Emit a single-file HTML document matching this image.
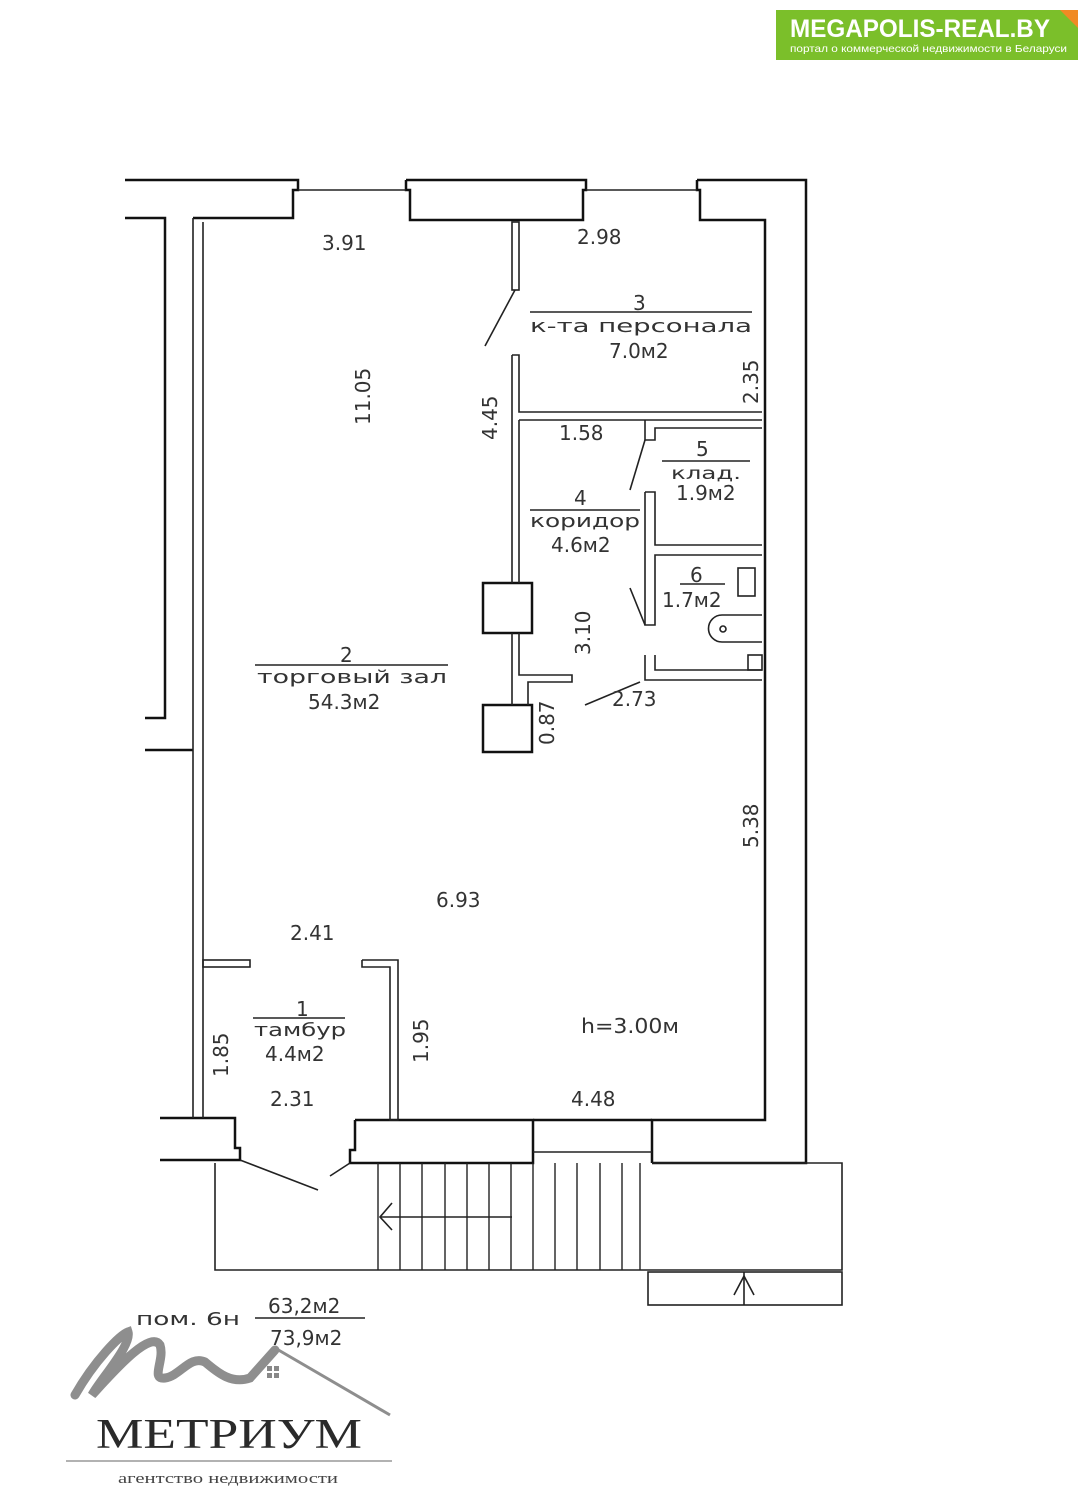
<!DOCTYPE html>
<html><head><meta charset="utf-8"><style>
html,body{margin:0;padding:0;background:#fff;width:1088px;height:1500px;overflow:hidden}
svg text{font-family:"DejaVu Sans","Liberation Sans",sans-serif;fill:#333}
</style></head><body>
<svg width="1088" height="1500" viewBox="0 0 1088 1500" xmlns="http://www.w3.org/2000/svg">
<rect width="1088" height="1500" fill="#fff"/>
<!-- top logo -->
<rect x="776" y="10" width="302" height="50" fill="#7bbf2a"/>
<polygon points="1060,10 1078,10 1078,28" fill="#f08a24"/>
<text x="790" y="37" font-weight="bold" font-size="25" textLength="260" lengthAdjust="spacingAndGlyphs" style="fill:#fff;font-family:'Liberation Sans'">MEGAPOLIS-REAL.BY</text>
<text x="790" y="52" font-size="10.5" textLength="277" lengthAdjust="spacingAndGlyphs" style="fill:#fff;font-family:'Liberation Sans'">портал о коммерческой недвижимости в Беларуси</text>

<g stroke="#111" fill="none" stroke-width="2.5">
<polyline points="125,180 298,180 298,190 293,190 293,218 193,218"/>
<polyline points="406,180 586,180 586,190 583,190 583,220 410,220 410,190 406,190 406,180"/>
<polyline points="697,180 806,180 806,1163 652,1163"/>
<polyline points="697,180 697,190 700,190 700,220 765,220 765,1120 652,1120 652,1163"/>
<polyline points="125,218 165,218 165,718 145,718"/>
<line x1="145" y1="750" x2="193" y2="750"/>
<polyline points="160,1118 235,1118 235,1148 240,1148 240,1160 160,1160"/>
<polyline points="355,1120 533,1120 533,1163 350,1163 350,1150 355,1150 355,1120"/>
<line x1="533" y1="1120" x2="652" y2="1120"/>
<rect x="483" y="583" width="49" height="50"/>
<rect x="483" y="705" width="49" height="47"/>
</g>
<g stroke="#222" fill="none" stroke-width="1.6">
<line x1="193" y1="218" x2="193" y2="1118"/>
<line x1="203" y1="222" x2="203" y2="1118"/>
<line x1="298" y1="190" x2="406" y2="190"/>
<line x1="586" y1="190" x2="697" y2="190"/>
<line x1="533" y1="1152" x2="652" y2="1152"/>
<rect x="512" y="222" width="7" height="68"/>
<line x1="515" y1="290" x2="485" y2="346"/>
<polyline points="512,355 519,355 519,412 762,412"/>
<polyline points="512,355 512,583"/>
<line x1="519" y1="420" x2="762" y2="420"/>
<polyline points="519,420 519,583"/>
<line x1="512" y1="633" x2="512" y2="705"/>
<polyline points="519,633 519,675 572,675 572,682 528,682 528,705"/>
<polyline points="645,420 645,440 655,440 655,428 762,428"/>
<line x1="645" y1="440" x2="630" y2="490"/>
<polyline points="645,492 655,492 655,545 762,545"/>
<polyline points="645,492 645,625 655,625 655,555 762,555"/>
<line x1="630" y1="588" x2="645" y2="625"/>
<polyline points="645,655 645,680 762,680"/>
<polyline points="655,655 655,670 762,670"/>
<line x1="585" y1="705" x2="640" y2="682"/>
<rect x="738" y="568" width="17" height="28"/>
<path d="M762,615 H722 A12,12 0 0 0 722,642 H762"/>
<circle cx="723" cy="629" r="3"/>
<rect x="748" y="655" width="14" height="15"/>
<rect x="203" y="960" width="47" height="7"/>
<polyline points="362,960 398,960 398,1120 390,1120 390,967 362,967 362,960"/>
<line x1="240" y1="1160" x2="318" y2="1190"/>
<line x1="350" y1="1163" x2="330" y2="1176"/>
<polyline points="215,1163 215,1270 842,1270 842,1163 652,1163"/>
<rect x="648" y="1272" width="194" height="33"/>
<line x1="744" y1="1272" x2="744" y2="1305"/>
<polyline points="734,1295 744,1276 754,1295"/>
<line x1="380" y1="1217" x2="512" y2="1217"/>
<polyline points="392,1203 380,1217 392,1230"/>
</g>
<g stroke="#222" stroke-width="1.4">
<line x1="378" y1="1163" x2="378" y2="1270"/><line x1="400" y1="1163" x2="400" y2="1270"/>
<line x1="422" y1="1163" x2="422" y2="1270"/><line x1="445" y1="1163" x2="445" y2="1270"/>
<line x1="467" y1="1163" x2="467" y2="1270"/><line x1="489" y1="1163" x2="489" y2="1270"/>
<line x1="511" y1="1163" x2="511" y2="1270"/><line x1="533" y1="1163" x2="533" y2="1270"/>
<line x1="555" y1="1163" x2="555" y2="1270"/><line x1="577" y1="1163" x2="577" y2="1270"/>
<line x1="600" y1="1163" x2="600" y2="1270"/><line x1="622" y1="1163" x2="622" y2="1270"/>
<line x1="640" y1="1163" x2="640" y2="1270"/>
<line x1="530" y1="312" x2="752" y2="312"/>
<line x1="662" y1="461" x2="750" y2="461"/>
<line x1="530" y1="510" x2="640" y2="510"/>
<line x1="680" y1="584" x2="725" y2="584"/>
<line x1="255" y1="665" x2="448" y2="665"/>
<line x1="253" y1="1018" x2="345" y2="1018"/>
<line x1="255" y1="1318" x2="365" y2="1318"/>
</g>
<g font-size="20">
<text x="322" y="250">3.91</text>
<text x="577" y="244">2.98</text>
<text x="633" y="310">3</text>
<text x="530" y="332" font-size="18" textLength="222" lengthAdjust="spacingAndGlyphs">к-та персонала</text>
<text x="609" y="358">7.0м2</text>
<text x="559" y="440">1.58</text>
<text x="696" y="456">5</text>
<text x="671" y="479" font-size="17" textLength="70" lengthAdjust="spacingAndGlyphs">клад.</text>
<text x="676" y="500">1.9м2</text>
<text x="574" y="505">4</text>
<text x="530" y="527" font-size="18" textLength="110" lengthAdjust="spacingAndGlyphs">коридор</text>
<text x="551" y="552">4.6м2</text>
<text x="690" y="582">6</text>
<text x="662" y="607">1.7м2</text>
<text x="340" y="662">2</text>
<text x="257" y="683" font-size="18" textLength="190" lengthAdjust="spacingAndGlyphs">торговый зал</text>
<text x="308" y="709">54.3м2</text>
<text x="612" y="706">2.73</text>
<text x="436" y="907">6.93</text>
<text x="290" y="940">2.41</text>
<text x="296" y="1016">1</text>
<text x="254" y="1036" font-size="18" textLength="92" lengthAdjust="spacingAndGlyphs">тамбур</text>
<text x="265" y="1061">4.4м2</text>
<text x="581" y="1033" textLength="98" lengthAdjust="spacingAndGlyphs">h=3.00м</text>
<text x="270" y="1106">2.31</text>
<text x="571" y="1106">4.48</text>
<text x="136" y="1325" font-size="18" textLength="104" lengthAdjust="spacingAndGlyphs">пом. 6н</text>
<text x="268" y="1313">63,2м2</text>
<text x="270" y="1345">73,9м2</text>
<text transform="translate(370,425) rotate(-90)">11.05</text>
<text transform="translate(497,440) rotate(-90)">4.45</text>
<text transform="translate(758,404) rotate(-90)">2.35</text>
<text transform="translate(590,655) rotate(-90)">3.10</text>
<text transform="translate(554,745) rotate(-90)">0.87</text>
<text transform="translate(758,848) rotate(-90)">5.38</text>
<text transform="translate(228,1077) rotate(-90)">1.85</text>
<text transform="translate(428,1063) rotate(-90)">1.95</text>
</g>
<path d="M75,1395 C95,1360 120,1335 128,1332 C132,1345 100,1380 92,1395 C115,1370 150,1330 160,1345 C165,1360 150,1380 165,1378 C180,1376 190,1355 205,1362 C215,1370 230,1385 250,1378 L275,1350" stroke="#8e8e8e" stroke-width="9" fill="none" stroke-linecap="round"/>
<polyline points="250,1378 275,1348 390,1415" stroke="#8e8e8e" stroke-width="3" fill="none"/>
<rect x="267" y="1366" width="5" height="5" fill="#888"/><rect x="274" y="1366" width="5" height="5" fill="#888"/>
<rect x="267" y="1373" width="5" height="5" fill="#888"/><rect x="274" y="1373" width="5" height="5" fill="#888"/>
<text x="96" y="1448" font-size="42" textLength="266" lengthAdjust="spacingAndGlyphs" style="font-family:'Liberation Serif',serif;fill:#2a2a2a">МЕТРИУМ</text>
<line x1="66" y1="1461" x2="392" y2="1461" stroke="#999" stroke-width="1.5"/>
<text x="118" y="1483" font-size="15" textLength="220" lengthAdjust="spacingAndGlyphs" style="font-family:'Liberation Serif',serif;fill:#444">агентство недвижимости</text>
</svg>
</body></html>
